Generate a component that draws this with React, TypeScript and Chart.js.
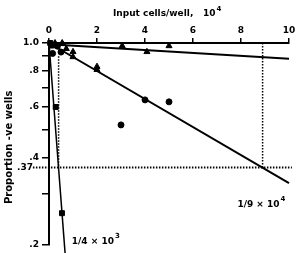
import React, { useEffect, useRef } from "react";
import { Chart, registerables } from "chart.js";

Chart.register(...registerables);

// ---- data ----
const xTickValues = [0, 2, 4, 6, 8, 10];
const yTickValues = [0.2, 0.3, 0.4, 0.5, 0.6, 0.7, 0.8, 0.9, 1.0];
const yTickLabels = [".2", "", ".4", "", ".6", "", ".8", "", "1.0"];

const squaresX = [0.05, 0.12, 0.28, 0.54];
const squaresY = [1.0, 0.98, 0.6, 0.257];

const circlesX = [0.15, 0.35, 0.5, 3.0, 4.0, 5.0];
const circlesY = [0.92, 0.975, 0.93, 0.52, 0.635, 0.625];

const trianglesX = [0.25, 0.55, 0.72, 1.0, 1.0, 2.0, 2.0, 3.05, 4.08, 5.0];
const trianglesY = [1.0, 1.0, 0.955, 0.932, 0.895, 0.828, 0.808, 0.977, 0.932, 0.977];

// fitted lines
const steepX = [0, 0.67];
const steepY = [1.0, 0.187];
const midX = [0, 10];
const midY = [1.0, 0.327];
const flatX = [0, 10];
const flatY = [0.99, 0.882];

// 37% reference level and its intercepts
const refLevel = 0.37;
const refLevelX = [-0.67, 10.12];
const steepInterceptX = 0.4;
const steepInterceptTop = 0.9;
const midInterceptX = 8.9;
const midInterceptTop = 1.0;

const FONT = '"DejaVu Sans", "Liberation Sans", sans-serif';

const pts = (xs: number[], ys: number[]) => xs.map((x, i) => ({ x, y: ys[i] }));

const textPlugin = {
  id: "texts",
  afterDraw(chart: any) {
    const { ctx, scales, chartArea } = chart;
    const x = scales.x;
    const y = scales.y;
    ctx.save();
    ctx.fillStyle = "#000";
    const f = (s: number) => `bold ${s}px ${FONT}`;
    const drawSup = (base: string, sup: string, px: number, py: number, size: number) => {
      ctx.font = f(size);
      ctx.textAlign = "left";
      ctx.textBaseline = "middle";
      ctx.fillText(base, px, py);
      const w = ctx.measureText(base).width;
      ctx.font = f(size - 2);
      ctx.fillText(sup, px + w + 1, py - 5);
    };
    // x axis title
    ctx.font = f(9);
    ctx.textAlign = "left";
    ctx.textBaseline = "middle";
    ctx.fillText("Input cells/well,", 113, chartArea.top - 29);
    drawSup("10", "4", 203, chartArea.top - 29, 9);
    // y axis title
    ctx.save();
    ctx.translate(9, (y.getPixelForValue(0.6) + y.getPixelForValue(0.37)) / 2 + 10);
    ctx.rotate(-Math.PI / 2);
    ctx.font = f(10);
    ctx.textAlign = "center";
    ctx.textBaseline = "middle";
    ctx.fillText("Proportion -ve wells", 0, 0);
    ctx.restore();
    // .37 label
    ctx.font = f(9);
    ctx.textAlign = "right";
    ctx.textBaseline = "middle";
    ctx.fillText(".37", chartArea.left - 16, y.getPixelForValue(refLevel));
    // annotations
    drawSup("1/4 \u00d7 10", "3", x.getPixelForValue(0.95), y.getPixelForValue(0.205), 9);
    drawSup("1/9 \u00d7 10", "4", x.getPixelForValue(7.85), y.getPixelForValue(0.276), 9);
    ctx.restore();
  },
};

export default function App() {
  const ref = useRef<HTMLCanvasElement>(null);
  useEffect(() => {
    if (!ref.current) return;
    const lineDs = (data: any[], width: number, dash: number[] = []) => ({
      type: "scatter" as const,
      data,
      showLine: true,
      borderColor: "#000",
      borderWidth: width,
      borderDash: dash,
      pointRadius: 0,
      clip: false as any,
    });
    const markDs = (data: any[], style: string, r: number) => ({
      type: "scatter" as const,
      data,
      pointStyle: style as any,
      pointRadius: r,
      backgroundColor: "#000",
      borderColor: "#000",
      borderWidth: 1,
      showLine: false,
      clip: false as any,
    });
    const chart = new Chart(ref.current, {
      type: "scatter",
      data: {
        datasets: [
          lineDs(pts(refLevelX, [refLevel, refLevel]), 2, [1.5, 1.5]),
          lineDs(pts([steepInterceptX, steepInterceptX], [steepInterceptTop, refLevel]), 1.5, [1.5, 1.5]),
          lineDs(pts([midInterceptX, midInterceptX], [midInterceptTop, refLevel]), 1.5, [1.5, 1.5]),
          lineDs(pts(steepX, steepY), 1.5),
          lineDs(pts(midX, midY), 2),
          lineDs(pts(flatX, flatY), 2),
          markDs(pts(squaresX, squaresY), "rect", 3.5),
          markDs(pts(circlesX, circlesY), "circle", 3),
          markDs(pts(trianglesX, trianglesY), "triangle", 3.5),
        ] as any,
      },
      options: {
        responsive: false,
        animation: false,
        layout: { padding: { left: 0, top: 0, right: 10, bottom: 6 } },
        plugins: { legend: { display: false }, tooltip: { enabled: false } },
        scales: {
          x: {
            type: "linear",
            position: "top",
            min: 0,
            max: 10,
            afterBuildTicks: (scale: any) => {
              scale.ticks = xTickValues.map((v) => ({ value: v }));
            },
            afterFit: (scale: any) => {
              scale.height = 43;
            },
            ticks: {
              font: { family: FONT, size: 9, weight: "bold" },
              color: "#000",
              padding: 2,
              maxRotation: 0,
            },
            grid: { drawOnChartArea: false, drawTicks: true, tickLength: 5, color: "#000", lineWidth: 1.5 },
            border: { display: true, color: "#000", width: 2 },
          },
          y: {
            type: "logarithmic",
            position: "left",
            min: 0.2,
            max: 1.0,
            afterBuildTicks: (scale: any) => {
              scale.ticks = yTickValues.map((v) => ({ value: v }));
            },
            afterFit: (scale: any) => {
              scale.width = 49;
            },
            ticks: {
              font: { family: FONT, size: 9, weight: "bold" },
              color: "#000",
              padding: 3,
              callback: (v: any) => {
                const i = yTickValues.findIndex((t) => Math.abs(t - Number(v)) < 1e-9);
                return i >= 0 ? yTickLabels[i] : "";
              },
            },
            grid: { drawOnChartArea: false, drawTicks: true, tickLength: 7, color: "#000", lineWidth: 1.5 },
            border: { display: true, color: "#000", width: 2 },
          },
        },
      },
      plugins: [textPlugin],
    } as any);
    return () => chart.destroy();
  }, []);
  return (
    <div style={{ position: "absolute", left: 0, top: 0, width: 299, height: 253, background: "#fff" }}>
      <canvas ref={ref} width={299} height={253} style={{ display: "block" }} />
    </div>
  );
}
